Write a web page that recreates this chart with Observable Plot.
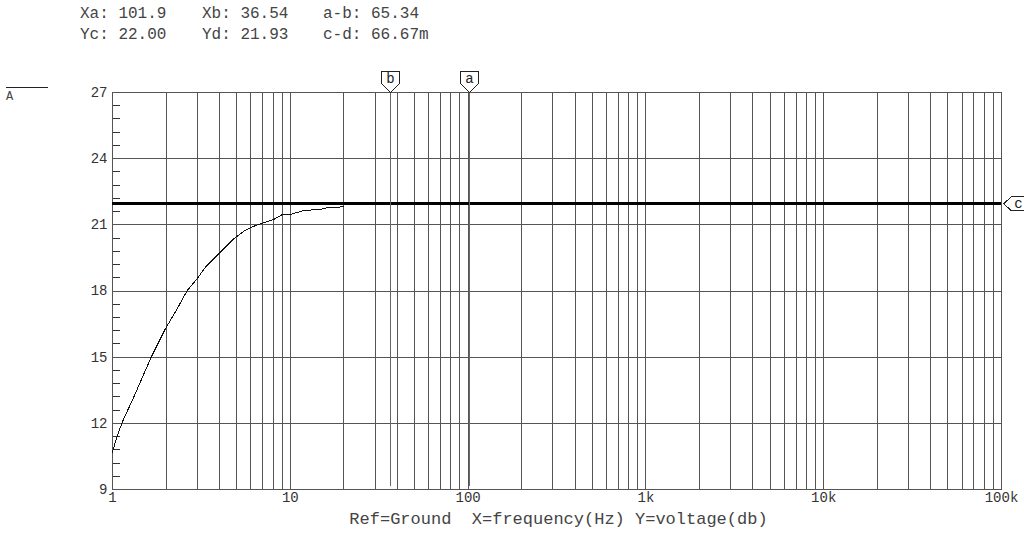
<!DOCTYPE html>
<html><head><meta charset="utf-8">
<script src="https://cdn.jsdelivr.net/npm/d3@7"></script>
<script src="https://cdn.jsdelivr.net/npm/@observablehq/plot@0.6"></script>
<style>
body{margin:0;background:#fff;}
#wrap{position:relative;width:1024px;height:543px;overflow:hidden;font-family:"Liberation Mono",monospace;color:#333;background:#fff;}
#wrap svg{position:absolute;left:0;top:0;shape-rendering:crispEdges;}
#wrap svg text{shape-rendering:auto;}
.t{position:absolute;font-size:16px;white-space:pre;line-height:16px;}
</style></head><body><div id="wrap"></div>
<script>
// Trace: frequency (Hz) vs voltage (dB)
const freq    = [1.0, 1.04, 1.134, 1.317, 1.65, 1.985, 2.31, 2.63, 2.99, 3.33, 3.96, 4.81, 5.47, 5.96, 6.78, 8.06, 8.99, 10.0, 11.9, 14.7, 16.1, 20.0];
const voltage = [10.69, 11.2, 12.05, 13.19, 15.0, 16.29, 17.19, 18.02, 18.55, 19.08, 19.69, 20.37, 20.71, 20.87, 21.05, 21.24, 21.46, 21.47, 21.65, 21.7, 21.77, 21.82];

// Cursors
const cursorXNames  = ["a", "b"];
const cursorXValues = [101.9, 36.54];
const cursorYNames  = ["c", "d"];
const cursorYValues = [22.00, 21.93];

// Axes
const yTicks = [27, 24, 21, 18, 15, 12, 9];
const xTicks = [1, 10, 100, 1000, 10000, 100000];
const xTickLabels = ["1", "10", "100", "1k", "10k", "100k"];
const xDomain = [1, 100000];
const yDomain = [9, 27];

// Readout texts
const readoutCol1 = ["Xa: 101.9", "Yc: 22.00"];
const readoutCol2 = ["Xb: 36.54", "Yd: 21.93"];
const readoutCol3 = ["a-b: 65.34", "c-d: 66.67m"];
const caption = "Ref=Ground  X=frequency(Hz) Y=voltage(db)";
const traceName = "A";

// derived grid / minor ticks
const xGrid = [];
for (let d = 1; d < 100000; d *= 10) for (let k = 1; k <= 9; k++) xGrid.push(d * k);
xGrid.push(100000);
const yMinor = d3.range(9, 27.001, 0.6).map(v => +v.toFixed(2)).filter(v => Math.abs(v / 3 - Math.round(v / 3)) > 1e-6);

const trace = freq.map((f, i) => ({f, v: voltage[i]}));
const xCursors = cursorXNames.map((n, i) => ({n, x: cursorXValues[i]}));

const downMarker = {draw(ctx) {
  ctx.moveTo(-9, -21); ctx.lineTo(9, -21); ctx.lineTo(9, -9); ctx.lineTo(0, 0); ctx.lineTo(-9, -9); ctx.closePath();
}};
const leftMarker = {draw(ctx) {
  ctx.moveTo(0, 0); ctx.lineTo(8, -7); ctx.lineTo(30, -7); ctx.lineTo(30, 7); ctx.lineTo(8, 7); ctx.closePath();
}};

const gridColor = "#555";
const chart = Plot.plot({
  width: 1024, height: 543,
  marginLeft: 112, marginRight: 23, marginTop: 92, marginBottom: 54,
  x: {type: "log", domain: xDomain},
  y: {domain: yDomain},
  style: {fontFamily: "Liberation Mono, monospace", fontSize: "14px", color: "#333", background: "transparent"},
  marks: [
    Plot.ruleX(xGrid, {stroke: gridColor, strokeWidth: 1}),
    Plot.ruleY(yTicks, {stroke: gridColor, strokeWidth: 1}),
    Plot.axisY(yMinor, {tickSize: -8, text: null, stroke: "#333", label: null}),
    Plot.axisY(yTicks, {tickSize: 0, tickPadding: 5, label: null, fontSize: 14}),
    Plot.axisX(xTicks, {tickSize: 0, tickPadding: 3, label: null, fontSize: 14,
      tickFormat: d => xTickLabels[xTicks.indexOf(d)]}),
    Plot.frame({stroke: gridColor}),
    Plot.ruleY(cursorYValues, {stroke: "#000", strokeWidth: 1.6, style: "shape-rendering:auto"}),
    Plot.ruleX(xCursors, {x: "x", y1: 9.15, y2: 27, stroke: "#666", strokeWidth: 1}),
    Plot.line(trace, {x: "f", y: "v", stroke: "#111", strokeWidth: 1, style: "shape-rendering:auto"}),
    Plot.dot(xCursors, {x: "x", y: () => yDomain[1], symbol: downMarker, fill: "white", stroke: "#222", strokeWidth: 1}),
    Plot.text(xCursors, {x: "x", y: () => yDomain[1], dy: -14, text: "n", fontSize: 14, fill: "#222"}),
    Plot.dot([cursorYValues[0]], {x: () => xDomain[1], y: d => d, dx: 2, dy: 1, symbol: leftMarker, fill: "white", stroke: "#222", strokeWidth: 1}),
    Plot.text([cursorYValues[0]], {x: () => xDomain[1], y: d => d, dx: 17, dy: 1, text: () => cursorYNames[0], fontSize: 14, fill: "#222"})
  ]
});
const wrap = document.getElementById("wrap");
wrap.appendChild(chart);

function addText(txt, left, top, extra) {
  const el = document.createElement("div");
  el.className = "t";
  el.textContent = txt;
  el.style.left = left + "px";
  el.style.top = top + "px";
  if (extra) Object.assign(el.style, extra);
  wrap.appendChild(el);
  return el;
}
[readoutCol1, readoutCol2, readoutCol3].forEach((col, c) => {
  col.forEach((s, r) => addText(s, [80, 202, 323][c], [6, 27][r], {color: "#444"}));
});
addText(caption, 0, 512, {width: "1117px", textAlign: "center", fontSize: "17px", color: "#444"});
addText(traceName, 6, 87, {width: "42px", borderTop: "1px solid #222", fontSize: "12px", lineHeight: "12px", paddingTop: "3px", color: "#444"});
</script>
</body></html>
